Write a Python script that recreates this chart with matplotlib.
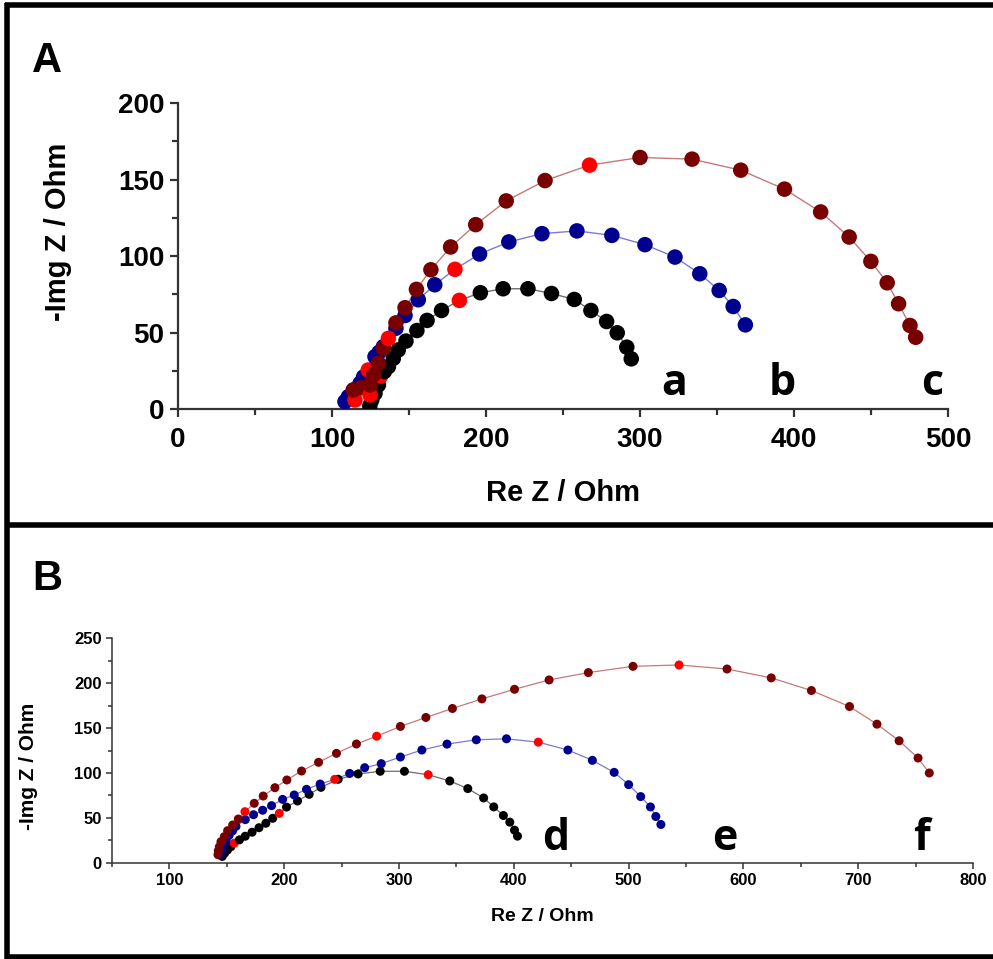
#
# Description: Nyquist plots (panels A and B)
#

import matplotlib
matplotlib.use('Agg')
import matplotlib.pyplot as plt
from matplotlib.lines import Line2D
from matplotlib.ticker import MultipleLocator

# ---------------- panel A data ----------------
a_x = [124.5, 125.8, 127.9, 130.1, 131.5, 134.0, 136.6, 139.8, 143.0, 148.0, 155.1, 161.7, 171.1,
       182.7, 196.3, 211.1, 227.2, 242.5, 257.3, 268.1, 278.3, 285.2, 291.4, 294.3]
a_y = [2.0, 5.9, 10.3, 15.7, 21.5, 24.5, 27.7, 33.1, 38.6, 44.4, 51.3, 57.9, 64.4,
       71.0, 76.0, 78.6, 78.6, 75.5, 71.6, 64.4, 57.2, 49.8, 40.4, 32.8]
a_red = [4, 13]

b_x = [108.4, 110.6, 114.0, 118.2, 120.5, 123.5, 127.9, 130.5, 133.3, 141.5, 147.4, 156.0, 166.7,
       179.8, 195.8, 214.8, 236.3, 259.0, 281.7, 303.2, 322.7, 338.8, 351.4, 360.5, 368.4]
b_y = [4.8, 8.0, 12.5, 16.8, 21.0, 25.5, 34.2, 37.0, 40.7, 52.8, 61.1, 71.4, 81.2,
       91.3, 101.3, 109.2, 114.6, 116.4, 113.5, 107.4, 99.3, 88.4, 77.5, 67.0, 55.0]
b_red = [5, 13]

c_x = [114.9, 113.8, 119.0, 124.7, 124.7, 127.0, 130.1, 133.3, 136.6, 141.5, 147.4, 154.8, 164.2,
       177.0, 193.3, 213.1, 238.3, 267.2, 300.0, 333.8, 365.4, 393.8, 417.3, 435.8, 449.9,
       460.5, 467.9, 475.3, 479.0]
c_y = [5.9, 12.4, 14.0, 9.2, 15.7, 22.5, 29.9, 39.7, 46.2, 56.3, 66.2, 78.2, 91.0,
       105.9, 120.5, 136.0, 149.3, 159.4, 164.4, 163.3, 156.1, 143.7, 128.8, 112.4, 96.5,
       82.5, 68.8, 54.6, 46.9]
c_red = [0, 3, 8, 17]

# ---------------- panel B data ----------------
d_x = [146.0, 148.0, 150.5, 153.5, 156.5, 161.0, 166.0, 172.0, 178.0, 184.0, 190.0, 195.7, 202.0,
       211.6, 221.7, 232.0, 247.0, 264.3, 283.6, 304.7, 325.4, 344.2, 359.9, 373.7, 382.5,
       390.9, 396.5, 400.6, 403.2]
d_y = [7.0, 10.5, 14.0, 17.8, 21.8, 25.5, 29.5, 34.0, 39.0, 44.0, 49.5, 55.0, 62.0,
       68.8, 76.2, 84.0, 93.0, 98.9, 101.9, 101.9, 98.1, 91.1, 82.6, 72.2, 62.2,
       52.6, 45.2, 36.3, 29.6]
d_red = [4, 11, 20]

e_x = [144.0, 144.8, 146.0, 147.5, 149.5, 152.0, 155.0, 158.0, 166.1, 173.3, 181.2, 189.0, 198.6,
       208.7, 219.4, 231.3, 244.0, 257.0, 270.1, 284.5, 301.2, 319.9, 341.8, 367.3, 393.6,
       421.3, 447.1, 468.4, 487.4, 500.0, 510.5, 519.0, 523.7, 528.1]
e_y = [8.5, 12.0, 16.0, 20.5, 25.5, 30.5, 35.5, 40.5, 48.0, 53.5, 58.5, 63.6, 70.6,
       75.5, 81.8, 87.7, 92.9, 99.5, 105.9, 110.4, 117.8, 125.6, 132.2, 137.0, 138.1,
       134.4, 125.6, 114.1, 100.7, 87.0, 73.7, 62.2, 51.5, 42.6]
e_red = [16, 25]

f_x = [142.3, 142.6, 143.5, 144.9, 147.8, 150.7, 155.1, 160.0, 165.8, 173.9, 181.7, 191.9, 202.3,
       215.1, 229.9, 245.5, 262.9, 280.5, 301.2, 323.4, 346.5, 372.2, 400.6, 430.7, 464.9,
       503.8, 543.9, 585.7, 624.2, 659.2, 692.4, 716.3, 735.6, 752.1, 761.9]
f_y = [9.0, 13.4, 17.8, 23.4, 29.0, 35.7, 42.0, 48.7, 56.9, 66.2, 74.3, 83.6, 92.2,
       102.2, 111.9, 121.9, 132.3, 141.0, 151.9, 161.9, 171.9, 182.6, 193.3, 203.7, 211.9,
       218.9, 220.4, 215.9, 206.0, 191.9, 174.1, 154.4, 135.9, 116.7, 100.0]
f_red = [8, 17, 26]

curve_names_a = ['a', 'b', 'c']
curve_names_b = ['d', 'e', 'f']

DARK = ['#000000', '#00008f', '#780000']
LINE = ['#6e6e6e', '#7a7ad6', '#c47a7a']
HIGHLIGHT = '#ff0000'

plt.rcParams['font.family'] = ['Liberation Sans', 'DejaVu Sans']


def draw_curve(ax, xs, ys, red_idx, k, ms, lw):
    ax.plot(xs, ys, '-', color=LINE[k], lw=lw, zorder=2)
    cols = [HIGHLIGHT if i in red_idx else DARK[k] for i in range(len(xs))]
    ax.scatter(xs, ys, s=ms, c=cols, zorder=3, linewidths=0)


def style_axes(ax, fs, tick_len, width):
    for side in ['top', 'right']:
        ax.spines[side].set_visible(False)
    for side in ['left', 'bottom']:
        ax.spines[side].set_color('#333333')
        ax.spines[side].set_linewidth(width)
    ax.tick_params(which='major', direction='out', length=tick_len, width=width,
                   color='#333333', labelsize=fs)
    ax.tick_params(which='minor', direction='out', length=tick_len * 0.7, width=width,
                   color='#333333')
    for lab in ax.get_xticklabels() + ax.get_yticklabels():
        lab.set_fontweight('bold')


fig = plt.figure(figsize=(9.93, 9.59), dpi=100)

# ---------------- panel A ----------------
axA = fig.add_axes([0.1793, 0.5735, 0.7754, 0.3191])
draw_curve(axA, a_x, a_y, a_red, 0, 125, 1.0)
draw_curve(axA, b_x, b_y, b_red, 1, 125, 1.0)
draw_curve(axA, c_x, c_y, c_red, 2, 125, 1.0)
axA.set_xlim(0, 500)
axA.set_ylim(0, 200)
axA.xaxis.set_major_locator(MultipleLocator(100))
axA.xaxis.set_minor_locator(MultipleLocator(50))
axA.yaxis.set_major_locator(MultipleLocator(50))
axA.yaxis.set_minor_locator(MultipleLocator(25))
style_axes(axA, 20, 6, 1.6)
axA.tick_params(axis='x', pad=7)
axA.tick_params(axis='y', pad=4)
axA.set_xlabel('Re Z / Ohm', fontsize=21, fontweight='bold')
axA.set_ylabel('-Img Z / Ohm', fontsize=21, fontweight='bold')
axA.xaxis.set_label_coords(0.5, -0.228)
axA.yaxis.set_label_coords(-0.138, 0.58)
for name, xpos in zip(curve_names_a, [322, 392.6, 489.4]):
    axA.text(xpos, 9, name, fontsize=31, fontweight='bold', family=['Open Sans', 'DejaVu Sans'],
             ha='center', va='baseline')

# ---------------- panel B ----------------
axB = fig.add_axes([0.1128, 0.1004, 0.8671, 0.2339])
draw_curve(axB, d_x, d_y, d_red, 0, 42, 0.9)
draw_curve(axB, e_x, e_y, e_red, 1, 42, 0.9)
draw_curve(axB, f_x, f_y, f_red, 2, 42, 0.9)
axB.set_xlim(50, 800)
axB.set_ylim(0, 250)
axB.xaxis.set_major_locator(MultipleLocator(100))
axB.xaxis.set_minor_locator(MultipleLocator(50))
axB.yaxis.set_major_locator(MultipleLocator(50))
axB.yaxis.set_minor_locator(MultipleLocator(25))
style_axes(axB, 12, 4, 1.1)
axB.set_xlabel('Re Z / Ohm', fontsize=14, fontweight='bold')
axB.set_ylabel('-Img Z / Ohm', fontsize=15, fontweight='bold')
axB.xaxis.set_label_coords(0.5, -0.2)
axB.yaxis.set_label_coords(-0.086, 0.43)
for name, xpos in zip(curve_names_b, [436.5, 583.6, 755]):
    axB.text(xpos, 14, name, fontsize=31, fontweight='bold', family=['Open Sans', 'DejaVu Sans'],
             ha='center', va='baseline')

# panel letters
fig.text(0.047, 0.936, 'A', fontsize=30, fontweight='bold', ha='center', va='center')
fig.text(0.048, 0.396, 'B', fontsize=30, fontweight='bold', ha='center', va='center')

# frame lines round the two panels
frame = dict(color='black', lw=4.0, solid_capstyle='butt', transform=fig.transFigure)
fig.add_artist(Line2D([0.007, 0.007], [0.0, 0.997], **frame))
fig.add_artist(Line2D([0.005, 1.0], [0.9945, 0.9945], **frame))
fig.add_artist(Line2D([0.005, 1.0], [0.4525, 0.4525], **frame))
fig.add_artist(Line2D([0.005, 1.0], [0.0025, 0.0025], **frame))

plt.savefig('out.png', dpi=100)
